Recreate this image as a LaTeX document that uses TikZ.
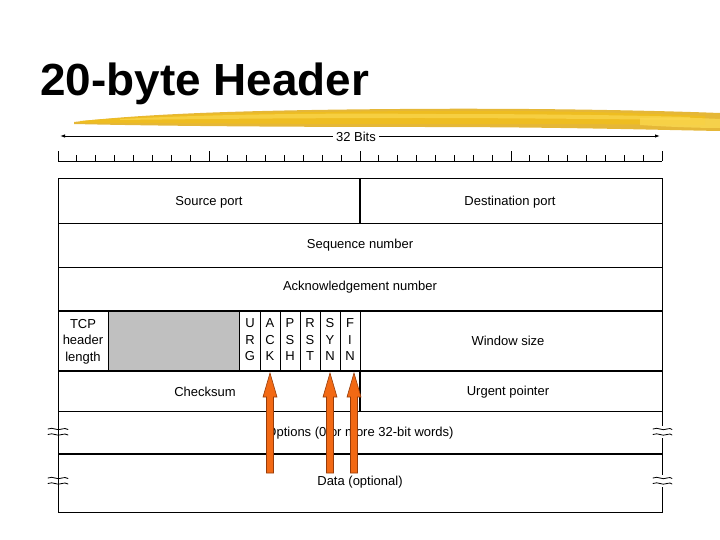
\documentclass[tikz,border=0pt]{standalone}
\usepackage{fontspec}
\setmainfont{Liberation Sans}
\usetikzlibrary{arrows.meta}
\definecolor{brushA}{RGB}{240,190,30}
\definecolor{brushB}{RGB}{250,215,80}
\definecolor{brushC}{RGB}{225,170,20}
\definecolor{cellgray}{RGB}{192,192,192}
\definecolor{arrowfill}{RGB}{242,105,20}
\definecolor{arrowedge}{RGB}{150,60,10}
\begin{document}
\begin{tikzpicture}[x=1pt,y=-1pt,
  lbl/.style={font=\fontsize{13}{15}\selectfont, inner sep=0pt, anchor=center},
  flag/.style={font=\fontsize{13}{15}\selectfont, inner sep=0pt, anchor=center},
  cellline/.style={line width=0.9pt},
  boldline/.style={line width=2pt},
  flagarrow/.style={fill=arrowfill, draw=arrowedge, line width=0.6pt, line join=miter},
  squig/.style={line width=0.8pt, line cap=round},
]
\useasboundingbox (0,0) rectangle (720,540);

% title
\node[anchor=base west, inner sep=0pt, font=\fontsize{45}{50}\selectfont\bfseries, xscale=1.02] (title) at (40,96) {20-byte Header};

% yellow brush stroke
\fill[brushC, opacity=0.85] (74,122) .. controls (150,113) and (260,110) .. (400,109)
  .. controls (520,108) and (640,110) .. (720,113) -- (720,131)
  .. controls (660,130) and (560,127) .. (420,127)
  .. controls (280,127) and (160,126) .. (74,124) -- cycle;
\fill[brushA, opacity=0.9] (80,121) .. controls (160,114) and (280,112) .. (420,111)
  .. controls (540,110) and (640,113) .. (705,116) -- (705,125)
  .. controls (620,124) and (520,124) .. (420,124)
  .. controls (280,124) and (160,123) .. (80,123) -- cycle;
\fill[brushB, opacity=0.7] (120,119) .. controls (220,114) and (330,113) .. (430,114)
  .. controls (530,114) and (620,115) .. (690,117) -- (690,120)
  .. controls (600,119) and (500,118) .. (420,118)
  .. controls (300,118) and (200,119) .. (120,120) -- cycle;
\fill[brushB, opacity=0.8] (640,118) .. controls (670,117) and (700,118) .. (720,119) -- (720,128)
  .. controls (700,128) and (670,127) .. (640,125) -- cycle;

% 32 bits
\node[lbl] (bits) at (356,137) {32 Bits};
\coordinate (bl) at (60,136);
\coordinate (br) at (660,136);
\draw[cellline, -{Latex[length=5pt,width=3.5pt]}] ([xshift=-3pt]bits.west |- bl) -- (bl);
\draw[cellline, -{Latex[length=5pt,width=3.5pt]}] ([xshift=3pt]bits.east |- br) -- (br);

% ruler
\draw[cellline] (58,161) -- (662,161);
\foreach \i in {0,...,32}{
  \pgfmathsetmacro{\xx}{58+\i*18.875}
  \pgfmathtruncatemacro{\m}{mod(\i,8)}
  \ifnum\m=0
    \draw[cellline] (\xx,161) -- (\xx,151);
  \else
    \draw[cellline] (\xx,161) -- (\xx,155);
  \fi
}

% gray cell
\fill[cellgray] (108,311) rectangle (239,371);

% outer frame and rows
\draw[cellline] (58,178) rectangle (662,512);
\draw[cellline] (58,223) -- (662,223);
\draw[cellline] (58,267) -- (662,267);
\draw[boldline] (58,311) -- (662,311);
\draw[boldline] (58,371) -- (662,371);
\draw[cellline] (58,411) -- (662,411);
\draw[boldline] (58,454) -- (662,454);
\draw[boldline] (360,178) -- (360,223);
\draw[boldline] (360,371) -- (360,411);
\foreach \xx in {108,239,260,280,300,320,340,360}
  \draw[cellline] (\xx,311) -- (\xx,371);

% labels
\node[lbl] (src) at (209,202) {Source port};
\node[lbl] (dst) at (510,202) {Destination port};
\node[lbl] (seq) at (360,245.5) {Sequence number};
\node[lbl] (ack) at (360,287.5) {Acknowledgement number};
\node[lbl, align=center, font=\fontsize{13}{16.5}\selectfont] (hlen) at (83,341.5) {TCP\\header\\length};
\node[lbl] (win) at (508,340.5) {Window size};
\node[lbl] (chk) at (205,392) {Checksum};
\node[lbl] (urg) at (508,392) {Urgent pointer};
\node[lbl] (opt) at (360,433.5) {Options (0 or more 32-bit words)};
\node[lbl] (data) at (360,482.5) {Data (optional)};

% flags
\foreach \cx/\a/\b/\c/\nm in {250/U/R/G/urgf,270/A/C/K/ackf,290/P/S/H/pshf,310/R/S/T/rstf,330/S/Y/N/synf,350/F/I/N/finf}{
  \node[flag] (\nm1) at (\cx,323.5) {\a};
  \node[flag] (\nm2) at (\cx,340) {\b};
  \node[flag] (\nm3) at (\cx,356.5) {\c};
}

% break marks
\foreach \yy in {432,481}{
  \fill[white] (48,\yy-3.5) rectangle (68,\yy+3.5);
  \draw[cellline] (58,\yy-4) -- (58,\yy+4);
  \draw[squig] (48,\yy-3) .. controls (53,\yy-5.5) and (57,\yy-0.5) .. (62,\yy-3) .. controls (64,\yy-4) and (66,\yy-3.5) .. (68,\yy-2.5);
  \draw[squig] (48,\yy+2.5) .. controls (53,\yy) and (57,\yy+5) .. (62,\yy+2.5) .. controls (64,\yy+1.5) and (66,\yy+2) .. (68,\yy+3);
  \fill[white] (653,\yy-6) rectangle (672,\yy+6);
  \draw[squig] (653,\yy-3) .. controls (658,\yy-5.5) and (662,\yy-0.5) .. (667,\yy-3) .. controls (669,\yy-4) and (671,\yy-3.5) .. (672,\yy-2.5);
  \draw[squig] (653,\yy+2.5) .. controls (658,\yy) and (662,\yy+5) .. (667,\yy+2.5) .. controls (669,\yy+1.5) and (671,\yy+2) .. (672,\yy+3);
}

% orange arrows
\foreach \ax in {270,330,354}{
  \filldraw[flagarrow] (\ax-3.5,473) -- (\ax-3.5,397) -- (\ax-7,397) -- (\ax,373) -- (\ax+7,397) -- (\ax+3.5,397) -- (\ax+3.5,473) -- cycle;
}
\end{tikzpicture}
\end{document}
